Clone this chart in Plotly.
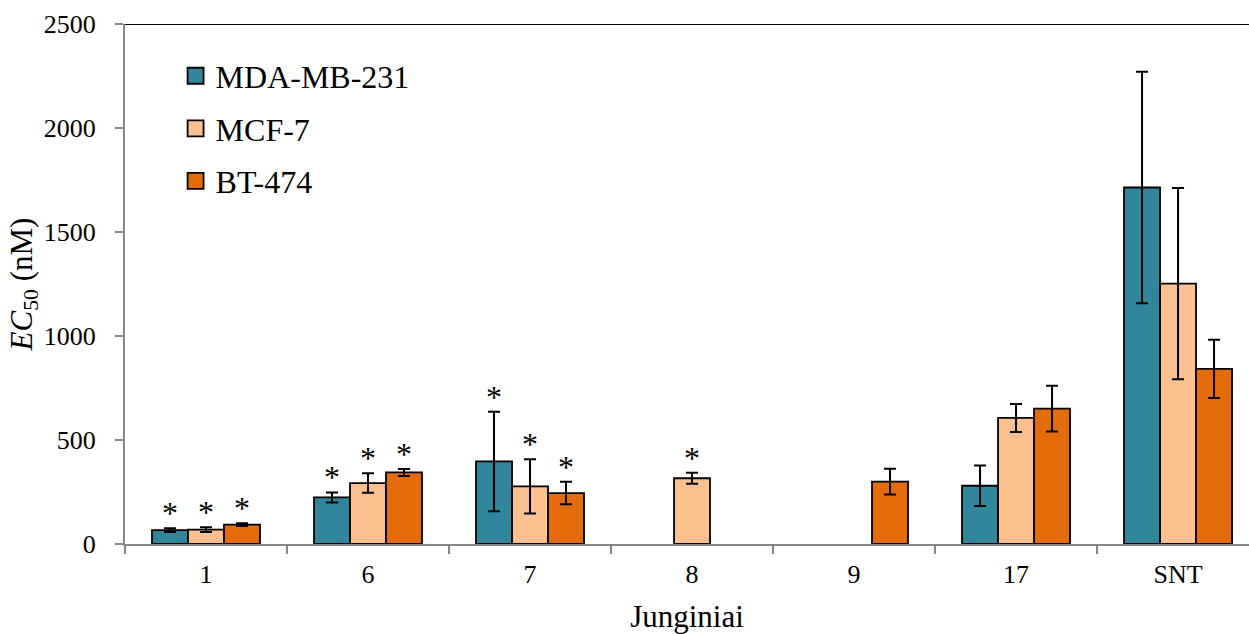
import plotly.graph_objects as go

categories = ["1", "6", "7", "8", "9", "17", "SNT"]
series_names = ["MDA-MB-231", "MCF-7", "BT-474"]
colors = ["#31859C", "#FAC090", "#E46C0A"]

mda = [67, 224, 397, None, None, 280, 1714]
mda_err = [9, 24, 239, 0, 0, 97, 557]
mcf = [69, 293, 277, 316, None, 606, 1252]
mcf_err = [11, 47, 130, 26, 0, 67, 460]
bt = [93, 344, 245, None, 300, 651, 842]
bt_err = [7, 17, 54, 0, 62, 110, 140]

mda_sig = [1, 1, 1, 0, 0, 0, 0]
mcf_sig = [1, 1, 1, 1, 0, 0, 0]
bt_sig = [1, 1, 1, 0, 0, 0, 0]

values = [mda, mcf, bt]
errors = [mda_err, mcf_err, bt_err]
sigs = [mda_sig, mcf_sig, bt_sig]

FONT = "'Liberation Serif', 'Times New Roman', 'DejaVu Serif', serif"
bargap = 1 / 3
bw = (1 - bargap) / 3

fig = go.Figure()
for k in range(3):
    fig.add_trace(go.Bar(
        x=categories, y=values[k], name=series_names[k],
        legendgroup=series_names[k], showlegend=False,
        marker=dict(color=colors[k], line=dict(color="black", width=1.8)),
        error_y=dict(type="data", array=errors[k], visible=True,
                     color="black", thickness=2, width=6),
    ))
# legend entries (larger square swatches, as in the reference)
for k in range(3):
    fig.add_trace(go.Scatter(
        x=[None], y=[None], mode="markers", name=series_names[k],
        legendgroup=series_names[k], showlegend=True,
        marker=dict(symbol="square", size=16, color=colors[k],
                    line=dict(color="black", width=1.8)),
    ))

annotations = []
for k in range(3):
    for i, c in enumerate(categories):
        if sigs[k][i] and values[k][i] is not None:
            top = values[k][i] + errors[k][i]
            annotations.append(dict(
                x=i + (k - 1) * bw, y=top, xref="x", yref="y",
                text="*", showarrow=False, yanchor="bottom", yshift=-5,
                font=dict(family=FONT, size=32, color="black"),
            ))

fig.update_layout(
    width=1249, height=634,
    margin=dict(l=125, r=0, t=24, b=90),
    paper_bgcolor="white", plot_bgcolor="white",
    barmode="group", bargap=bargap, bargroupgap=0,
    font=dict(family=FONT, size=26, color="black"),
    showlegend=True,
    legend=dict(x=0.045, y=0.953, xanchor="left", yanchor="top",
                font=dict(family=FONT, size=32, color="black"),
                tracegroupgap=8, bgcolor="rgba(0,0,0,0)"),
    annotations=annotations,
    shapes=[dict(type="line", xref="paper", yref="y", x0=0, x1=1,
                 y0=2500, y1=2500, line=dict(color="black", width=2))],
)
fig.update_xaxes(
    type="category", range=[-0.5, 6.438],
    showline=True, linecolor="#868686", linewidth=2,
    ticks="outside", tickson="boundaries", ticklen=8, tickcolor="#868686", tickwidth=2,
    ticklabelstandoff=6,
    tickfont=dict(family=FONT, size=26, color="black"),
    title=dict(text="Junginiai", font=dict(family=FONT, size=31, color="black"), standoff=18),
    showgrid=False, zeroline=False,
)
fig.update_yaxes(
    range=[0, 2500], dtick=500, tick0=0,
    showline=True, linecolor="#868686", linewidth=2,
    ticks="outside", ticklen=8, tickcolor="#868686", tickwidth=2,
    ticklabelstandoff=14,
    tickfont=dict(family=FONT, size=26, color="black"),
    title=dict(text="<i>EC</i><sub>50</sub> (nM)", font=dict(family=FONT, size=31, color="black"), standoff=2),
    showgrid=False, zeroline=False,
)

fig.write_html("out.html")
